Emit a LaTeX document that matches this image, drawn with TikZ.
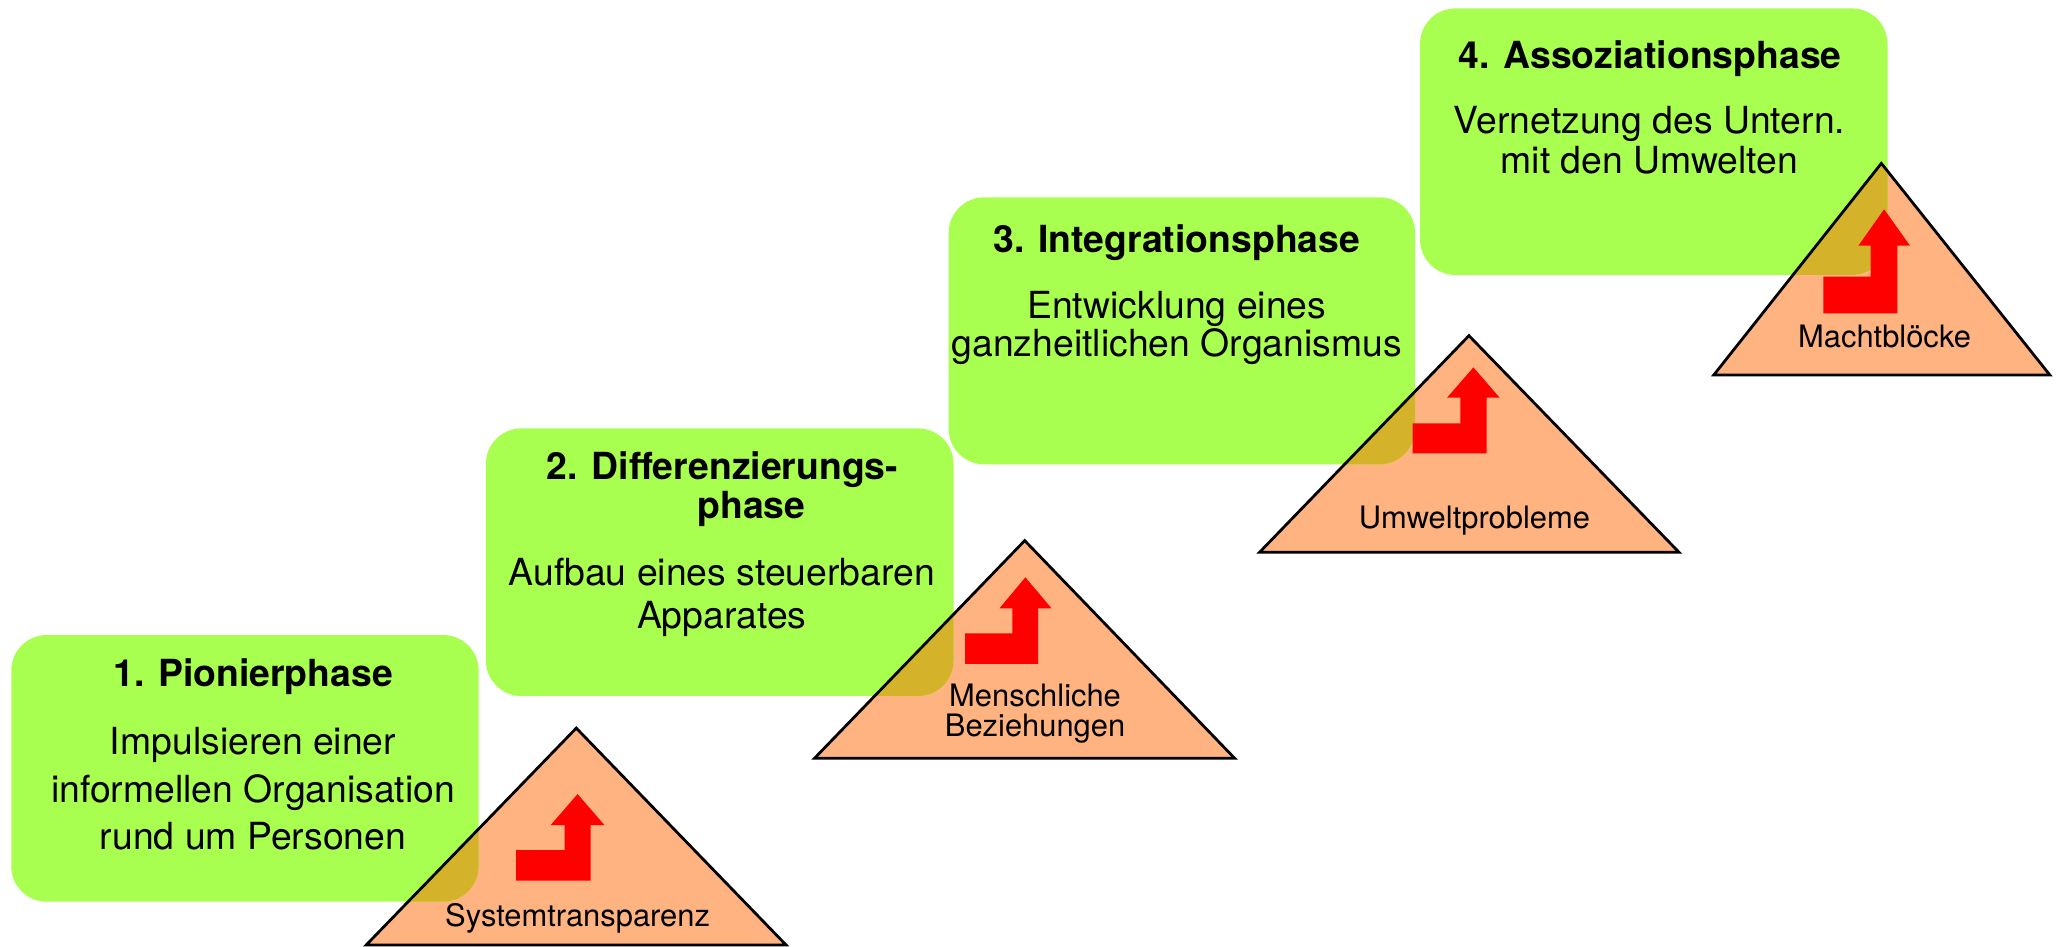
\documentclass[tikz,border=0pt]{standalone}
\usepackage{fontspec}
\setmainfont{TeX Gyre Heros}
\definecolor{boxgreen}{HTML}{A9FF4F}
\definecolor{trisalmon}{HTML}{FFB380}
\definecolor{overlapcol}{HTML}{D4B22A}
\definecolor{arrowred}{HTML}{FF0000}
\tikzset{
  phasebox/.style={fill=boxgreen, rounded corners=0.27cm},
  overlapfill/.style={fill=overlapcol, rounded corners=0.27cm},
  trifill/.style={fill=trisalmon},
  triline/.style={draw=black, line width=0.6pt, line join=miter},
  redarrow/.style={fill=arrowred},
  titletxt/.style={anchor=base, inner sep=0pt, font=\fontsize{8.1pt}{9pt}\selectfont\bfseries},
  bodytxt/.style={anchor=base, inner sep=0pt, font=\fontsize{8.1pt}{9pt}\selectfont},
  labeltxt/.style={anchor=base, inner sep=0pt, font=\fontsize{6.7pt}{7.5pt}\selectfont},
}
\begin{document}
\begin{tikzpicture}[x=0.01cm, y=-0.01cm]
\useasboundingbox (0,0) rectangle (1568,722);

% triangle and box coordinates
\coordinate (t1a) at (439.5,555.3); \coordinate (t1l) at (279.3,720.7); \coordinate (t1r) at (599.5,720.7);
\coordinate (t2a) at (781.5,412.3); \coordinate (t2l) at (621.2,578.3); \coordinate (t2r) at (941.6,578.3);
\coordinate (t3a) at (1120.3,256.0); \coordinate (t3l) at (960.6,421.2); \coordinate (t3r) at (1280.5,421.2);
\coordinate (t4a) at (1434.8,124.6); \coordinate (t4l) at (1307.0,286.0); \coordinate (t4r) at (1563.3,286.0);

\coordinate (b1nw) at (8.6,484.3);    \coordinate (b1se) at (365.0,687.7);
\coordinate (b2nw) at (370.6,326.7);  \coordinate (b2se) at (727.2,530.8);
\coordinate (b3nw) at (723.5,150.5);  \coordinate (b3se) at (1079.2,354.1);
\coordinate (b4nw) at (1083.0,6.4);   \coordinate (b4se) at (1439.5,209.7);

% triangle fills
\foreach \i in {1,2,3,4} {
  \path[trifill] (t\i a) -- (t\i l) -- (t\i r) -- cycle;
}
% boxes
\foreach \i in {1,2,3,4} {
  \path[phasebox] (b\i nw) rectangle (b\i se);
}
% overlaps
\foreach \i in {1,2,3,4} {
  \begin{scope}
    \clip (t\i a) -- (t\i l) -- (t\i r) -- cycle;
    \path[overlapfill] (b\i nw) rectangle (b\i se);
  \end{scope}
}
% triangle outlines
\foreach \i in {1,2,3,4} {
  \path[triline] (t\i a) -- (t\i l) -- (t\i r) -- cycle;
}

% red arrows
\path[redarrow] (393.7,671.6) -- (393.7,648.3) -- (430.6,648.3) -- (430.6,629.2) -- (420.0,629.2)
  -- (440.5,605.6) -- (460.9,629.2) -- (450.4,629.2) -- (450.4,671.6) -- cycle;
\path[redarrow] (736.0,506.4) -- (736.0,483.0) -- (772.0,483.0) -- (772.0,463.9) -- (762.3,463.9)
  -- (782.0,440.3) -- (801.9,463.9) -- (791.7,463.9) -- (791.7,506.4) -- cycle;
\path[redarrow] (1077.3,345.8) -- (1077.3,322.9) -- (1113.8,322.9) -- (1113.8,303.3) -- (1103.6,303.3)
  -- (1123.7,280.2) -- (1143.7,303.3) -- (1133.8,303.3) -- (1133.8,345.8) -- cycle;
\path[redarrow] (1390.6,239.0) -- (1390.6,211.0) -- (1426.7,211.0) -- (1426.7,187.4) -- (1417.3,187.4)
  -- (1436.9,159.6) -- (1456.7,187.4) -- (1447.0,187.4) -- (1447.0,239.0) -- cycle;

% box texts
\node[titletxt] (b1t) at (193.0,523.7) {1. Pionierphase};
\node[bodytxt] (b1a) at (193.0,575.8) {Impulsieren einer};
\node[bodytxt] (b1b) at (193.0,612.2) {informellen Organisation};
\node[bodytxt] (b1c) at (193.0,647.5) {rund um Personen};

\node[titletxt] (b2t) at (551.0,366.0) {2. Differenzierungs-};
\node[titletxt] (b2u) at (573.0,395.3) {phase};
\node[bodytxt] (b2a) at (550.5,446.7) {Aufbau eines steuerbaren};
\node[bodytxt] (b2b) at (550.5,479.2) {Apparates};

\node[titletxt] (b3t) at (897.5,192.7) {3. Integrationsphase};
\node[bodytxt] (b3a) at (897.5,242.8) {Entwicklung eines};
\node[bodytxt] (b3b) at (897.5,272.0) {ganzheitlichen Organismus};

\node[titletxt] (b4t) at (1258.4,52.1) {4. Assoziationsphase};
\node[bodytxt] (b4a) at (1258.0,101.7) {Vernetzung des Untern.};
\node[bodytxt] (b4b) at (1258.0,132.2) {mit den Umwelten};

% triangle labels
\node[labeltxt] (l1) at (440.5,706.7) {Systemtransparenz};
\node[labeltxt] (l2a) at (789.4,539.0) {Menschliche};
\node[labeltxt] (l2b) at (789.4,561.8) {Beziehungen};
\node[labeltxt] (l3) at (1124.5,403.0) {Umweltprobleme};
\node[labeltxt] (l4) at (1437.3,264.9) {Machtblöcke};
\end{tikzpicture}
\end{document}
